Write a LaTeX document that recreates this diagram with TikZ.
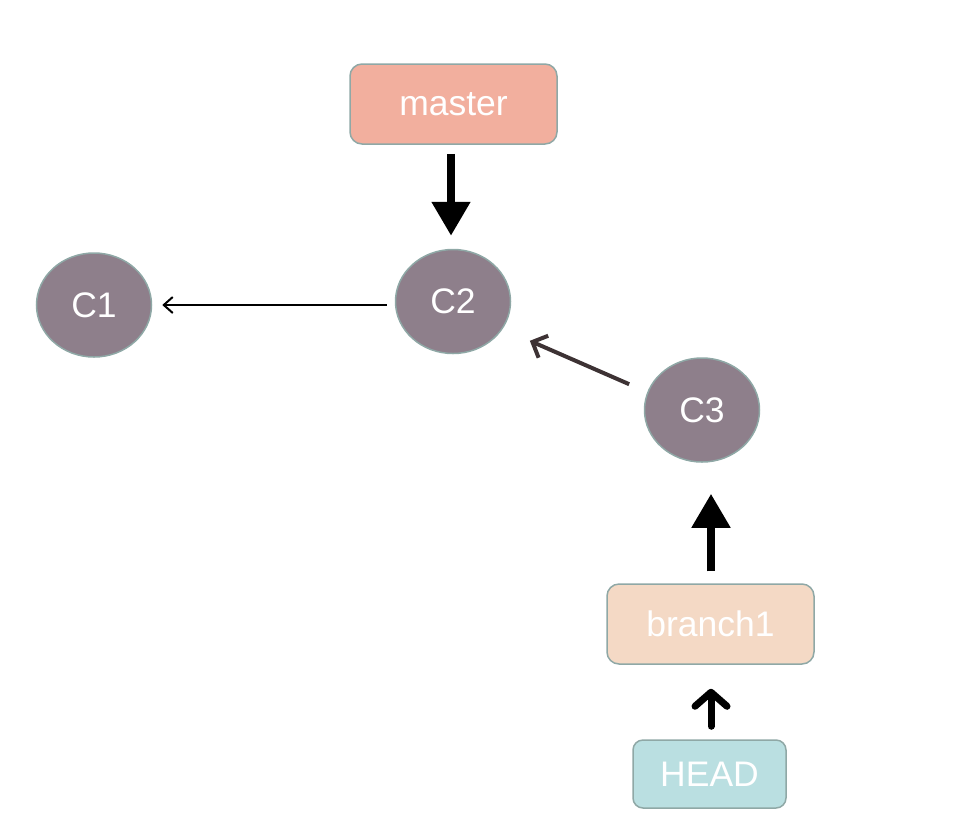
\documentclass[tikz,border=0pt]{standalone}
\usepackage{fontspec}
\setmainfont{Liberation Sans}
\usetikzlibrary{arrows.meta,shapes.geometric}
\definecolor{edgegray}{HTML}{8FA8A6}
\definecolor{commitfill}{HTML}{8E7F8B}
\definecolor{masterfill}{HTML}{F2AF9E}
\definecolor{branchfill}{HTML}{F4D9C5}
\definecolor{headfill}{HTML}{BADFE1}
\definecolor{darkarrow}{HTML}{3D3234}
\tikzset{
  refbox/.style={draw=edgegray, line width=1.5pt, rounded corners=12pt, inner sep=0pt,
    text=white, font=\fontsize{35.5}{40}\selectfont},
  commit/.style={ellipse, draw=edgegray, line width=1.5pt, fill=commitfill, inner sep=0pt,
    minimum width=115pt, minimum height=104pt, text=white, font=\fontsize{35.5}{40}\selectfont},
  bigarrow/.style={line width=8pt, -{Triangle[length=34pt,width=37pt]}},
  thinarrow/.style={line width=2pt, -{Straight Barb[length=9pt,width=16pt]}},
}
\begin{document}
\begin{tikzpicture}[x=1pt,y=-1pt]
\useasboundingbox (0,0) rectangle (964,831);
\node[refbox, fill=masterfill, minimum width=207pt, minimum height=80pt] (master) at (453.5,104) {master};
\node[commit] (C1) at (94,305) {C1};
\node[commit] (C2) at (453,301.5) {C2};
\node[commit] (C3) at (702,410) {C3};
\node[refbox, fill=branchfill, minimum width=207pt, minimum height=80pt] (branch1) at (710.5,624) {branch1};
\node[refbox, fill=headfill, minimum width=153pt, minimum height=68pt, rounded corners=10pt] (HEAD) at (709.5,774) {HEAD};

\draw[bigarrow, shorten <=9pt, shorten >=13pt] (master.south -| 451,0) -- (C2.north -| 451,0);
\draw[thinarrow, shorten <=8pt, shorten >=10pt] (C1.east -| C2.west) -- (C1.east);
\draw[darkarrow, line width=4pt, -{Straight Barb[length=12pt,width=24pt]}, shorten <=2pt, shorten >=2pt]
  (C3) ++(-71,-25) coordinate (c3tail) (c3tail) -- (528,340);
\draw[bigarrow, shorten <=12pt, shorten >=31pt] (branch1.north -| 711,0) -- (C3.south -| 711,0);
\draw[line width=7pt, line cap=round, -{Straight Barb[length=14pt,width=32pt,round]}, shorten <=13pt, shorten >=24pt]
  (HEAD.north -| 711,0) -- (branch1.south -| 711,0);
\end{tikzpicture}
\end{document}
